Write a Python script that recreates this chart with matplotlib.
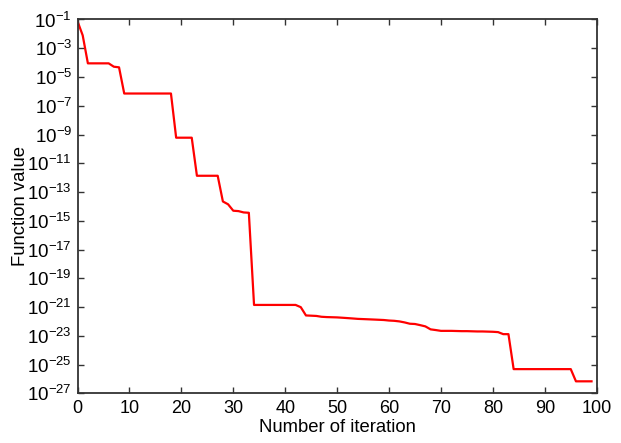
import matplotlib
matplotlib.use("Agg")
import matplotlib.pyplot as plt
from matplotlib.ticker import NullLocator, FixedLocator

plt.rcParams['font.family'] = ['Liberation Sans', 'DejaVu Sans']
plt.rcParams['mathtext.fontset'] = 'custom'
plt.rcParams['mathtext.rm'] = 'Liberation Sans'
plt.rcParams['mathtext.it'] = 'Liberation Sans:italic'
plt.rcParams['mathtext.bf'] = 'Liberation Sans:bold'

iterations = list(range(100))
function_value = [
    7.6e-2, 7.9e-3, 8.9e-5, 8.9e-5, 8.9e-5, 8.9e-5, 8.9e-5, 5.2e-5, 4.7e-5, 7.1e-7,
    7.1e-7, 7.1e-7, 7.1e-7, 7.1e-7, 7.1e-7, 7.1e-7, 7.1e-7, 7.1e-7, 7.1e-7, 6.0e-10,
    6.0e-10, 6.0e-10, 6.0e-10, 1.35e-12, 1.35e-12, 1.35e-12, 1.35e-12, 1.35e-12, 2.2e-14, 1.4e-14,
    5.0e-15, 4.7e-15, 3.8e-15, 3.6e-15, 1.4e-21, 1.4e-21, 1.4e-21, 1.4e-21, 1.4e-21, 1.4e-21,
    1.4e-21, 1.4e-21, 1.4e-21, 9.8e-22, 2.6e-22, 2.5e-22, 2.4e-22, 2.1e-22, 2.0e-22, 1.95e-22,
    1.9e-22, 1.8e-22, 1.7e-22, 1.6e-22, 1.5e-22, 1.45e-22, 1.4e-22, 1.35e-22, 1.3e-22, 1.25e-22,
    1.15e-22, 1.1e-22, 1.0e-22, 8.5e-23, 6.9e-23, 6.6e-23, 5.5e-23, 4.5e-23, 2.8e-23, 2.5e-23,
    2.2e-23, 2.2e-23, 2.2e-23, 2.15e-23, 2.1e-23, 2.1e-23, 2.05e-23, 2.0e-23, 2.0e-23, 1.95e-23,
    1.9e-23, 1.8e-23, 1.3e-23, 1.3e-23, 4.8e-26, 4.8e-26, 4.8e-26, 4.8e-26, 4.8e-26, 4.8e-26,
    4.8e-26, 4.8e-26, 4.8e-26, 4.8e-26, 4.8e-26, 4.8e-26, 6.8e-27, 6.8e-27, 6.8e-27, 6.8e-27,
]
x_ticks = [0, 10, 20, 30, 40, 50, 60, 70, 80, 90, 100]
y_ticks = [1e-27, 1e-25, 1e-23, 1e-21, 1e-19, 1e-17, 1e-15, 1e-13, 1e-11, 1e-9, 1e-7, 1e-5, 1e-3, 1e-1]

fig = plt.figure(figsize=(6.21, 4.43), dpi=100)
ax = fig.add_axes([0.1248, 0.1122, 0.8361, 0.8438])
ax.plot(iterations, function_value, color='#ff0000', linewidth=1.6)
ax.set_yscale('log')
ax.set_xlim(0, 100)
ax.set_ylim(1e-27, 1e-1)
ax.xaxis.set_major_locator(FixedLocator(x_ticks))
ax.yaxis.set_major_locator(FixedLocator(y_ticks))
ax.yaxis.set_minor_locator(NullLocator())
ax.xaxis.set_minor_locator(NullLocator())
ax.tick_params(direction='in', length=4, width=1, colors='#333333',
               top=True, right=True, labelcolor='black')
ax.tick_params(axis='y', labelsize=13.5, pad=4)
ax.tick_params(axis='x', labelsize=13, pad=5)
for s in ax.spines.values():
    s.set_color('#333333')
    s.set_linewidth(1.3)
ax.set_xlabel('Number of iteration', fontsize=13.3, labelpad=1)
ax.set_ylabel('Function value', fontsize=13.3, labelpad=-1)
fig.savefig('out.png', dpi=100)
